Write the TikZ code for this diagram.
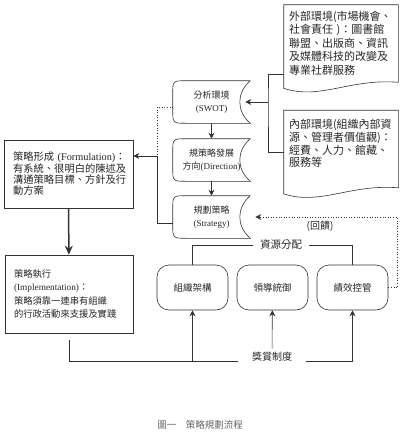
\documentclass[tikz,border=0pt]{standalone}
\usepackage{fontspec}
\setmainfont{Noto Sans CJK TC}
\newfontfamily\lat{Liberation Serif}
\usetikzlibrary{arrows.meta}

\begin{document}
\begin{tikzpicture}[x=1pt, y=-1pt, line width=0.6pt, color=black!80, text=black!85,
	every node/.style={font=\fontsize{10}{13}\selectfont},
	arr/.style={-{Stealth[length=6pt, width=6pt]}},
	docbox/.style={align=left, text width=104pt, inner xsep=5pt, inner ysep=3pt, text height=12pt, text depth=65pt, font=\fontsize{11}{13.6}\selectfont},
	store/.style={minimum width=77pt, minimum height=42pt, inner sep=0pt, align=center, font=\fontsize{9}{13}\selectfont},
	unit/.style={draw, rounded corners=12pt, minimum width=71pt, minimum height=45pt, font=\fontsize{9.5}{12}\selectfont},
	plain/.style={draw, align=left, inner xsep=9pt}]
		\useasboundingbox (0,0) rectangle (400,434);

		% environment
		\node[docbox] (ext) at (341,46.5) {外部環境(市場機會、\\社會責任 )：圖書館\\聯盟、出版商、資訊\\及媒體科技的改變及\\專業社群服務};
		\node[docbox, text height=15pt, text depth=62pt, font=\fontsize{11}{12.8}\selectfont] (int) at (341,152) {內部環境(組織內部資\\源、管理者價值觀)：\\經費、人力、館藏、\\服務等};
		\foreach \n in {ext,int}
			\draw (\n.north west) -- (\n.north east) -- ([yshift=6pt]\n.south east) .. controls +(-48,-4) and +(36,12) .. (\n.south west) -- cycle;

		% planning steps
		\node[store] (swot) at (211.5,102) {分析環境\\{\lat (SWOT)}};
		\node[store] (dir) at (211.5,160) {規策略發展\\方向{\lat (Direction)}};
		\node[store] (strat) at (211.5,217) {規劃策略\\{\lat (Strategy)}};
		\foreach \n in {swot,dir,strat}
			\draw (\n.north east) -- ([xshift=14pt]\n.north west) .. controls (\n.north west) .. ([yshift=-14pt]\n.north west) -- ([yshift=14pt]\n.south west) .. controls (\n.south west) .. ([xshift=14pt]\n.south west) -- (\n.south east) .. controls +(-14,-12) and +(-14,12) .. (\n.north east);

		\node[plain, text width=111pt, inner xsep=9pt, minimum height=68pt, font=\fontsize{10.3}{11.3}\selectfont] (form) at (68.5,174) {\mbox{策略形成 {\lat (Formulation)}：}\\有系統、很明白的陳述及\\溝通策略目標、方針及行\\動方案};
		\node[plain, text width=110pt, minimum height=78pt, font=\fontsize{9.3}{13.6}\selectfont] (impl) at (69,294) {策略執行\\{\lat (Implementation)}：\\策略須靠一連串有組織\\的行政活動來支援及實踐};

		\node[unit] (org) at (192.5,287.5) {組織架構};
		\node[unit] (lead) at (272.5,287.5) {領導統御};
		\node[unit] (perf) at (352.5,287.5) {績效控管};

		\node[inner xsep=7pt, font=\fontsize{10.5}{12}\selectfont] (res) at (281,245) {資源分配};
		\node[inner xsep=14pt] (rew) at (272,357) {獎賞制度};
		\node (fbk) at (320,226) {(回饋)};
		\node[font=\fontsize{9.5}{11}\selectfont, text=black!60] (cap) at (200,425) {圖一\quad 策略規劃流程};

		% connectors
		\coordinate (env) at (268,102);
		\draw ([yshift=-28pt]ext.west) -| (env) |- (int.west);
		\draw[arr] (env) -- ([xshift=-5pt]swot.east);
		\draw[arr] (swot) -- (dir);
		\draw[arr] (dir) -- (strat);

		\coordinate (join) at (157,156);
		\draw ([yshift=-6pt]strat.west) -| (join);
		\draw[dotted] ([yshift=-5pt]swot.west) -| (join);
		\draw[arr] (join) -- (form.east |- join);
		\draw[-{Stealth[length=9pt, width=8pt]}, line width=1.5pt] (form) -- (impl);

		\draw[dotted, arr] (perf.east) -- ++(9,0) |- ([xshift=5pt]strat.east);

		\draw (res.west) -| (org.north);
		\draw (res.east) -| (perf.north);

		\coordinate (base) at ([yshift=-4pt]rew.west);
		\draw (base) -| ([yshift=-7pt]impl.south);
		\draw[arr] (org.south |- base) -- (org.south);
		\draw[arr] ([yshift=-4pt]rew.east) -| (perf.south);
		\draw[arr] (rew) -- (lead);
	\end{tikzpicture}
\end{document}
